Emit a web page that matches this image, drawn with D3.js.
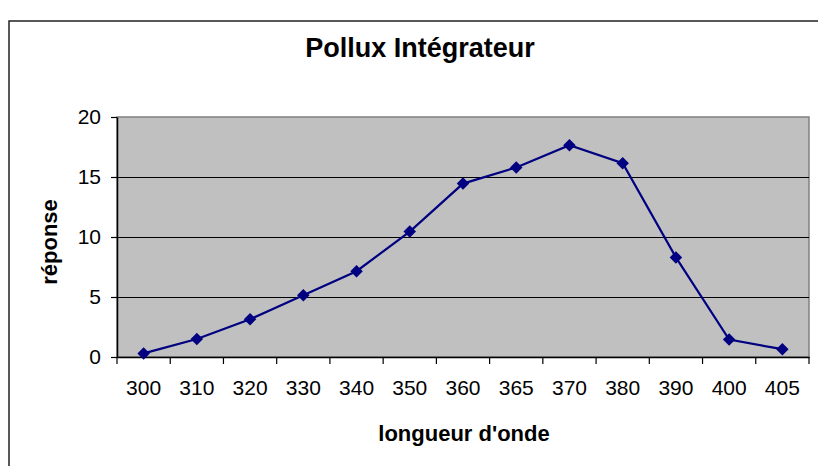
<!DOCTYPE html>
<html><head><meta charset="utf-8">
<script src="https://cdn.jsdelivr.net/npm/d3@7"></script>
<style>
html,body{margin:0;padding:0;background:#fff;}
svg{display:block;}
text{font-family:Arial,"Liberation Sans",sans-serif;}
</style></head>
<body>
<svg id="chart" width="818" height="466"></svg>
<script>
const categories = ["300","310","320","330","340","350","360","365","370","380","390","400","405"];
const values = [0.3, 1.5, 3.15, 5.15, 7.15, 10.45, 14.45, 15.8, 17.65, 16.15, 8.3, 1.45, 0.65];
const yTicks = [0, 5, 10, 15, 20];
const title = "Pollux Intégrateur";
const xTitle = "longueur d'onde";
const yTitle = "réponse";

const svg = d3.select("#chart");
const L = 117, R = 809, T = 117, B = 357;

// outer frame
svg.append("rect").attr("x", 9).attr("y", 21).attr("width", 900).attr("height", 600)
  .attr("fill", "#fff").attr("stroke", "#222").attr("stroke-width", 1.5);

const x = d3.scaleBand().domain(categories).range([L, R]).padding(0);
const y = d3.scaleLinear().domain([0, 20]).range([B, T]);

// plot area
svg.append("rect").attr("x", L).attr("y", T).attr("width", R - L).attr("height", B - T)
  .attr("fill", "#c0c0c0").attr("stroke", "#808080").attr("stroke-width", 1.5);

// gridlines
svg.append("g").selectAll("line").data(yTicks.filter(d => d > 0 && d < 20)).join("line")
  .attr("x1", L).attr("x2", R).attr("y1", d => y(d) + 0.5).attr("y2", d => y(d) + 0.5)
  .attr("stroke", "#000").attr("stroke-width", 1).attr("shape-rendering", "crispEdges");

// y axis
const yAxis = svg.append("g").attr("transform", `translate(${L},0)`)
  .call(d3.axisLeft(y).tickValues(yTicks).tickSize(6).tickPadding(10).tickSizeOuter(0));
yAxis.select(".domain").attr("stroke", "#000").attr("stroke-width", 1.5);
yAxis.selectAll(".tick line").attr("stroke", "#000").attr("stroke-width", 1.2);
yAxis.selectAll(".tick text").attr("font-size", 21).attr("fill", "#000").attr("dy", "0.32em");

// x axis (labels)
const xAxis = svg.append("g").attr("transform", `translate(0,${B})`)
  .call(d3.axisBottom(x).tickSize(0).tickPadding(23).tickSizeOuter(0));
xAxis.select(".domain").attr("stroke", "#000").attr("stroke-width", 1.5);
xAxis.selectAll(".tick text").attr("font-size", 21).attr("fill", "#000");
// boundary ticks
const bounds = categories.map(c => x(c)).concat([x(categories[categories.length - 1]) + x.bandwidth()]);
svg.append("g").selectAll("line").data(bounds).join("line")
  .attr("x1", d => d).attr("x2", d => d).attr("y1", B).attr("y2", B + 7)
  .attr("stroke", "#000").attr("stroke-width", 1.2);

// line
const line = d3.line().x((d, i) => x(categories[i]) + x.bandwidth() / 2).y(d => y(d));
svg.append("path").datum(values).attr("d", line).attr("fill", "none")
  .attr("stroke", "#000080").attr("stroke-width", 2.2);

// markers
svg.append("g").selectAll("path").data(values).join("path")
  .attr("transform", (d, i) => `translate(${x(categories[i]) + x.bandwidth() / 2},${y(d)}) rotate(45)`)
  .attr("d", d3.symbol().type(d3.symbolSquare).size(78))
  .attr("fill", "#000080");

// titles
svg.append("text").attr("x", 420).attr("y", 57).attr("text-anchor", "middle")
  .attr("font-size", 27).attr("font-weight", "bold").text(title);
svg.append("text").attr("x", 464).attr("y", 441).attr("text-anchor", "middle")
  .attr("font-size", 22).attr("font-weight", "bold").text(xTitle);
svg.append("text").attr("transform", "translate(57,242) rotate(-90)").attr("text-anchor", "middle")
  .attr("font-size", 22).attr("font-weight", "bold").text(yTitle);
</script>
</body></html>
